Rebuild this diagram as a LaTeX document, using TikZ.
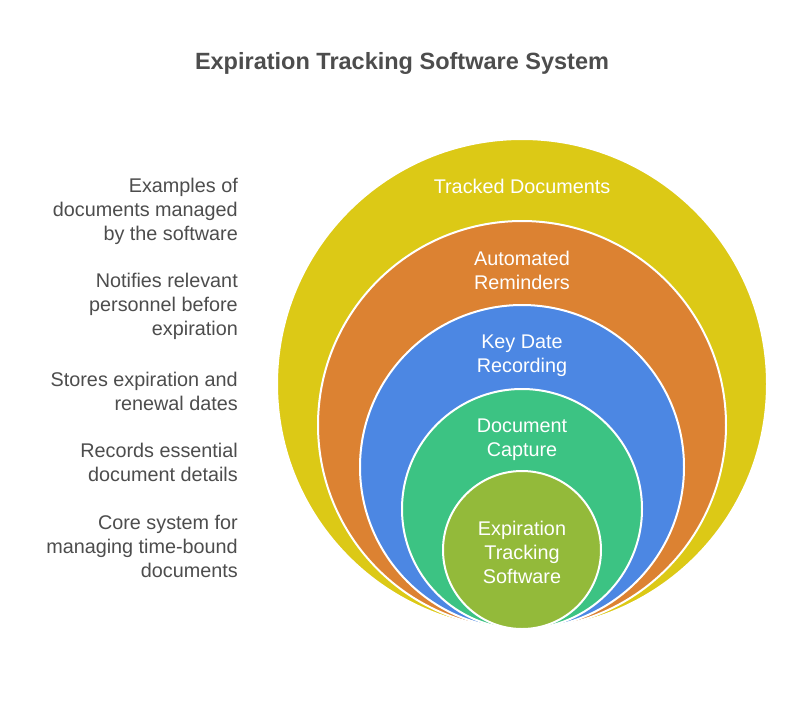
\documentclass[tikz,border=0pt]{standalone}
\usepackage{fontspec}
\setmainfont{Liberation Sans}
\definecolor{cyel}{RGB}{220,201,22}
\definecolor{cora}{RGB}{220,130,50}
\definecolor{cblu}{RGB}{76,135,227}
\definecolor{cgrn}{RGB}{60,195,131}
\definecolor{coli}{RGB}{147,186,58}
\definecolor{ctxt}{RGB}{77,77,77}
\begin{document}
\begin{tikzpicture}[x=1pt,y=-1pt,
  ring/.style={draw=white,line width=2pt},
  inlab/.style={text=white,font=\fontsize{19.8}{24}\selectfont,align=center,inner sep=0pt},
  sidelab/.style={text=ctxt,font=\fontsize{19.8}{24}\selectfont,align=right,anchor=east,inner sep=0pt}]
\useasboundingbox[fill=white] (0,0) rectangle (804,702);
\node[font=\bfseries\fontsize{23.5}{28}\selectfont,text=ctxt] (title) at (402,63) {Expiration Tracking Software System};
\path[ring,fill=cyel] (522,384) circle (245);
\path[ring,fill=cora] (522,425) circle (204);
\path[ring,fill=cblu] (522,467) circle (162);
\path[ring,fill=cgrn] (522,509) circle (120);
\path[ring,fill=coli] (522,550) circle (79);
\node[inlab] (l1) at (522,186) {Tracked Documents};
\node[inlab] (l2) at (522,270) {Automated\\Reminders};
\node[inlab] (l3) at (522,356) {Key Date\\Recording};
\node[inlab] (l4) at (522,440) {Document\\Capture};
\node[inlab] (l5) at (522,552) {Expiration\\Tracking\\Software};
\node[sidelab] (s1) at (238,211) {Examples of\\documents managed\\by the software};
\node[sidelab] (s2) at (238,306) {Notifies relevant\\personnel before\\expiration};
\node[sidelab] (s3) at (238,391) {Stores expiration and\\renewal dates};
\node[sidelab] (s4) at (238,462) {Records essential\\document details};
\node[sidelab] (s5) at (238,546) {Core system for\\managing time-bound\\documents};
\end{tikzpicture}
\end{document}
